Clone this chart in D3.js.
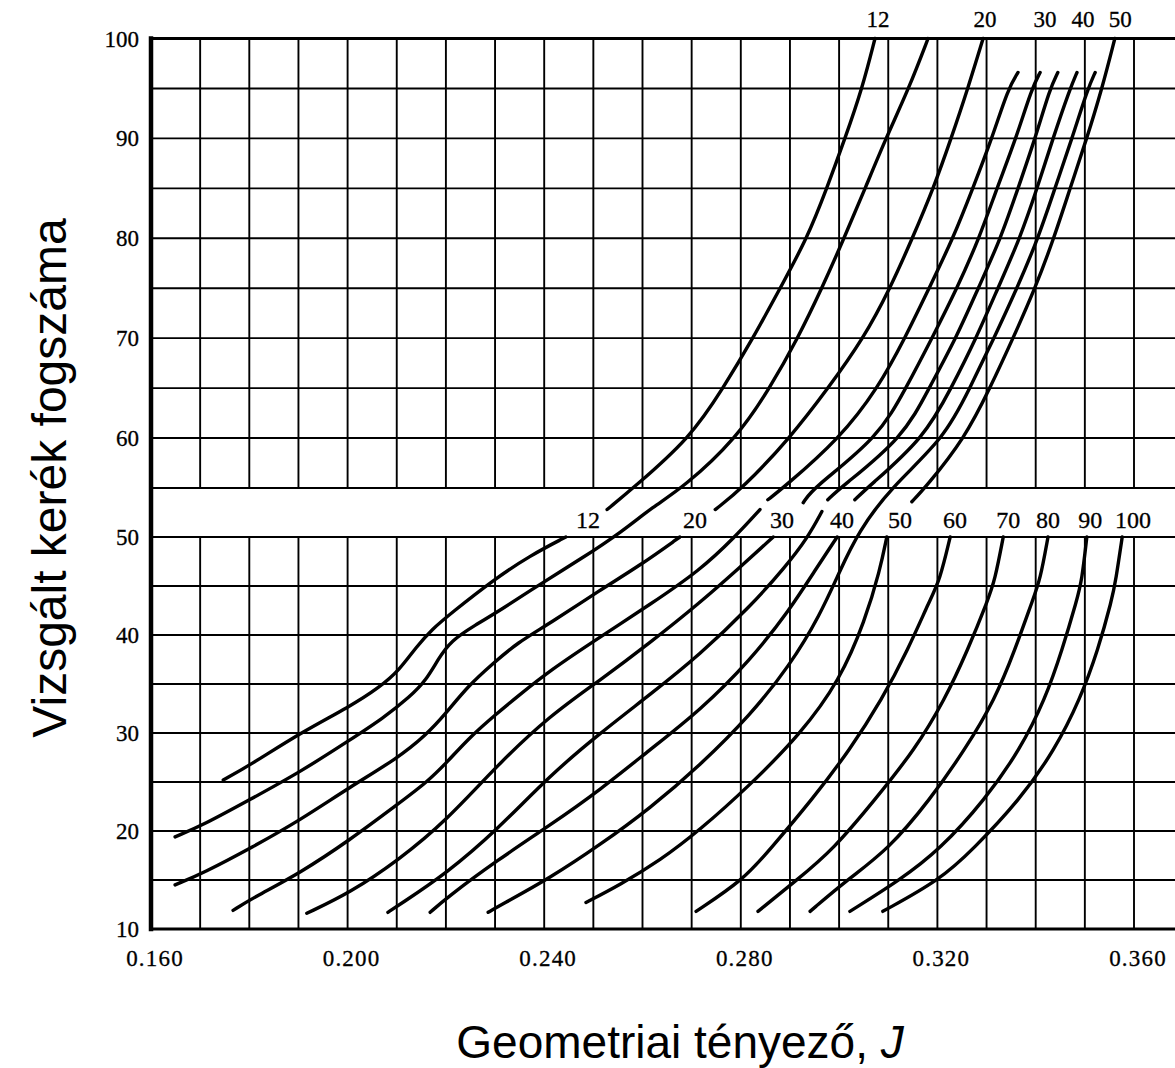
<!DOCTYPE html>
<html>
<head>
<meta charset="utf-8">
<script src="https://cdn.jsdelivr.net/npm/d3@7"></script>
<style>
  body { margin: 0; background: #fff; }
  svg { display: block; }
</style>
</head>
<body>
<svg id="chart" width="1175" height="1068"></svg>
<script>
// Axis ticks
const xTicks = [0.160, 0.200, 0.240, 0.280, 0.320, 0.360];
const yTicks = [10, 20, 30, 40, 50, 60, 70, 80, 90, 100];

// Mate-teeth labels in the middle band and along the top edge, with the J they sit at
const bandLabels = ["12", "20", "30", "40", "50", "60", "70", "80", "90", "100"];
const bandLabelJ = [0.2489, 0.2707, 0.2884, 0.3006, 0.3124, 0.3236, 0.3344, 0.3425, 0.3511, 0.3598];
const topLabels = ["12", "20", "30", "40", "50"];
const topLabelJ = [0.3079, 0.3297, 0.3419, 0.3496, 0.3572];

// Curves below the band (tooth count 10-50), points are [J, teeth]
const lowerCurves = [
  [[0.1747,25.2],[0.1801,26.7],[0.1903,30.0],[0.2005,32.7],[0.2066,34.7],[0.2105,36.4],[0.2140,38.8],[0.2172,40.6],[0.2210,42.2],[0.2296,45.6],[0.2371,48.1],[0.2444,50.0]],
  [[0.1649,14.5],[0.1706,15.7],[0.1808,18.4],[0.1903,21.1],[0.2005,24.5],[0.2101,27.4],[0.2160,29.8],[0.2200,32.0],[0.2245,34.8],[0.2296,37.1],[0.2345,39.2],[0.2412,41.2],[0.2514,44.6],[0.2595,47.1],[0.2676,50.0]],
  [[0.1767,11.9],[0.1808,13.2],[0.1903,15.7],[0.2005,19.1],[0.2101,22.7],[0.2162,25.0],[0.2202,27.0],[0.2249,29.6],[0.2304,32.0],[0.2345,33.7],[0.2412,36.4],[0.2514,39.8],[0.2615,43.1],[0.2717,46.6],[0.2788,50.0],[0.2839,52.8]],
  [[0.1917,11.6],[0.2005,13.7],[0.2103,17.0],[0.2202,21.1],[0.2304,26.7],[0.2412,31.8],[0.2514,35.4],[0.2615,39.2],[0.2717,43.3],[0.2798,46.9],[0.2866,50.0]],
  [[0.2082,11.7],[0.2103,12.4],[0.2202,15.7],[0.2304,20.1],[0.2412,25.7],[0.2514,30.0],[0.2615,33.9],[0.2717,38.0],[0.2819,42.9],[0.2890,46.9],[0.2937,50.0],[0.2965,52.6]],
  [[0.2168,11.7],[0.2202,13.2],[0.2304,17.0],[0.2412,20.6],[0.2514,24.2],[0.2615,28.3],[0.2717,32.3],[0.2819,37.4],[0.2900,42.6],[0.2951,46.6],[0.2996,50.0]],
  [[0.2485,12.7],[0.2554,14.5],[0.2636,17.0],[0.2717,20.1],[0.2819,24.7],[0.2920,29.8],[0.3002,35.4],[0.3053,41.5],[0.3083,46.6],[0.3097,50.0]],
  [[0.2709,11.8],[0.2805,15.0],[0.2859,18.1],[0.2945,23.2],[0.3022,28.3],[0.3087,33.4],[0.3140,38.5],[0.3185,43.6],[0.3205,45.6],[0.3226,50.0]],
  [[0.2835,11.8],[0.2914,15.0],[0.2988,18.1],[0.3073,23.2],[0.3154,28.3],[0.3215,33.4],[0.3262,38.5],[0.3303,43.6],[0.3317,45.6],[0.3334,50.0]],
  [[0.2941,11.8],[0.3016,15.0],[0.3100,18.1],[0.3185,23.2],[0.3256,28.3],[0.3317,33.4],[0.3358,38.5],[0.3394,43.6],[0.3409,45.6],[0.3425,50.0]],
  [[0.3022,11.8],[0.3124,15.0],[0.3205,18.1],[0.3297,23.2],[0.3368,28.3],[0.3419,33.4],[0.3454,38.5],[0.3484,43.6],[0.3494,45.6],[0.3504,50.0]],
  [[0.3089,11.8],[0.3205,15.0],[0.3272,18.1],[0.3368,23.2],[0.3439,28.3],[0.3490,33.4],[0.3527,38.5],[0.3555,43.6],[0.3563,45.6],[0.3576,50.0]]
];

// Curves that run through the band from the lower field into the upper one
const throughCurves = [
  [[0.1649,19.4],[0.1706,20.6],[0.1801,23.2],[0.1903,26.0],[0.2005,29.3],[0.2072,31.5],[0.2127,33.7],[0.2160,35.4],[0.2185,37.6],[0.2210,39.4],[0.2259,41.0],[0.2310,42.5],[0.2398,45.4],[0.2473,47.7],[0.2560,50.6],[0.2621,53.1],[0.2682,55],[0.2792,60],[0.2859,65],[0.2916,70],[0.2965,75],[0.3010,80],[0.3053,85],[0.3095,90],[0.3142,95],[0.3181,100]],
  [[0.2286,11.7],[0.2310,12.4],[0.2412,15.2],[0.2514,18.6],[0.2615,22.3],[0.2717,26.7],[0.2819,31.8],[0.2900,36.9],[0.2961,42.0],[0.3002,46.6],[0.3039,50.5],[0.3104,55],[0.3215,60],[0.3266,65],[0.3315,70],[0.3362,75],[0.3405,80],[0.3439,85],[0.3474,90],[0.3506,95],[0.3521,96.6]]
];

// Curves above the band (tooth count 50-100)
const upperCurves = [
  [[0.2528,52.8],[0.2581,55],[0.2697,60],[0.2764,65],[0.2825,70],[0.2880,75],[0.2935,80],[0.2975,85],[0.3012,90],[0.3047,95],[0.3073,100]],
  [[0.2748,52.8],[0.2804,55],[0.2900,60],[0.2978,65],[0.3050,70],[0.3104,75],[0.3149,80],[0.3192,85],[0.3228,90],[0.3262,95],[0.3293,100]],
  [[0.2855,53.8],[0.2886,55],[0.3002,60],[0.3079,65],[0.3134,70],[0.3183,75],[0.3232,80],[0.3272,85],[0.3311,90],[0.3344,95],[0.3364,96.6]],
  [[0.2927,53.5],[0.2947,55],[0.3079,60],[0.3136,65],[0.3189,70],[0.3240,75],[0.3285,80],[0.3321,85],[0.3360,90],[0.3392,95],[0.3409,96.6]],
  [[0.2977,53.8],[0.3002,55],[0.3130,60],[0.3183,65],[0.3238,70],[0.3283,75],[0.3329,80],[0.3364,85],[0.3399,90],[0.3429,95],[0.3445,96.6]],
  [[0.3032,53.8],[0.3057,55],[0.3173,60],[0.3228,65],[0.3279,70],[0.3323,75],[0.3368,80],[0.3403,85],[0.3435,90],[0.3470,95],[0.3484,96.6]],
  [[0.3148,53.6],[0.3175,55],[0.3256,60],[0.3307,65],[0.3354,70],[0.3399,75],[0.3437,80],[0.3470,85],[0.3504,90],[0.3535,95],[0.3561,100]]
];

const W = 1175, H = 1068;
const svg = d3.select("#chart");
svg.append("rect").attr("width", W).attr("height", H).attr("fill", "#fff");

// J runs left to right; the tooth axis is split at the label band (50-55)
const x = d3.scaleLinear().domain([0.16, 0.36]).range([151, 1134]);
const y = d3.scaleLinear().domain([10, 50, 55, 100]).range([929, 537, 488, 38.5]);
const xEnd = x.invert(W);

const grid = svg.append("g").attr("stroke", "#000").attr("stroke-width", 1.9).attr("fill", "none");

// Horizontal rules every 5 teeth
d3.range(15, 100, 5).forEach(n => {
  grid.append("line")
    .attr("x1", x(0.16)).attr("x2", W)
    .attr("y1", y(n)).attr("y2", y(n));
});

// Vertical rules every 0.010, broken across the label band
d3.range(0.17, xEnd, 0.01).forEach(j => {
  [[10, 50], [55, 100]].forEach(([a, b]) => {
    grid.append("line")
      .attr("x1", x(j)).attr("x2", x(j))
      .attr("y1", y(a)).attr("y2", y(b));
  });
});

// Frame: heavy left and bottom axes, top edge
const frame = svg.append("g").attr("stroke", "#000").attr("fill", "none").attr("stroke-linecap", "square");
frame.append("line").attr("x1", x(0.16)).attr("x2", x(0.16)).attr("y1", y(10)).attr("y2", y(100)).attr("stroke-width", 4.5);
frame.append("line").attr("x1", x(0.16)).attr("x2", W).attr("y1", y(10)).attr("y2", y(10)).attr("stroke-width", 3.2);
frame.append("line").attr("x1", x(0.16)).attr("x2", W).attr("y1", y(100)).attr("y2", y(100)).attr("stroke-width", 3.2);

// Curves, smoothed through the read points
const line = d3.line()
  .x(d => x(d[0]))
  .y(d => y(d[1]))
  .curve(d3.curveBasis);

const curves = svg.append("g")
  .attr("fill", "none").attr("stroke", "#000")
  .attr("stroke-width", 3.4).attr("stroke-linecap", "round").attr("stroke-linejoin", "round");
[...lowerCurves, ...throughCurves, ...upperCurves].forEach(c => {
  curves.append("path").attr("d", line(c));
});

// Tick labels
const serif = "'Liberation Serif', 'DejaVu Serif', serif";
svg.append("g").selectAll("text").data(yTicks).join("text")
  .attr("x", 139).attr("y", d => y(d) + 8)
  .attr("text-anchor", "end")
  .attr("font-family", serif).attr("font-size", 23)
  .attr("stroke", "#000").attr("stroke-width", 0.3)
  .text(d => d);

svg.append("g").selectAll("text").data(xTicks).join("text")
  .attr("x", d => x(d) + 4).attr("y", 966)
  .attr("text-anchor", "middle")
  .attr("font-family", serif).attr("font-size", 23)
  .attr("letter-spacing", 1.2)
  .attr("stroke", "#000").attr("stroke-width", 0.3)
  .text(d => d3.format(".3f")(d));

// Mate labels
svg.append("g").selectAll("text").data(bandLabels).join("text")
  .attr("x", (d, i) => x(bandLabelJ[i])).attr("y", 528)
  .attr("text-anchor", "middle")
  .attr("font-family", serif).attr("font-size", 24)
  .attr("stroke", "#000").attr("stroke-width", 0.3)
  .text(d => d);

svg.append("g").selectAll("text").data(topLabels).join("text")
  .attr("x", (d, i) => x(topLabelJ[i])).attr("y", 27)
  .attr("text-anchor", "middle")
  .attr("font-family", serif).attr("font-size", 23)
  .attr("stroke", "#000").attr("stroke-width", 0.3)
  .text(d => d);

// Axis titles
const sans = "'Liberation Sans', Arial, sans-serif";
svg.append("text")
  .attr("transform", "translate(66,478) rotate(-90)")
  .attr("text-anchor", "middle")
  .attr("font-family", sans).attr("font-size", 48)
  .text("Vizsgált kerék fogszáma");

const xt = svg.append("text")
  .attr("x", 680).attr("y", 1058)
  .attr("text-anchor", "middle")
  .attr("font-family", sans).attr("font-size", 46);
xt.append("tspan").text("Geometriai tényező, ");
xt.append("tspan").attr("font-style", "italic").text("J");
</script>
</body>
</html>
